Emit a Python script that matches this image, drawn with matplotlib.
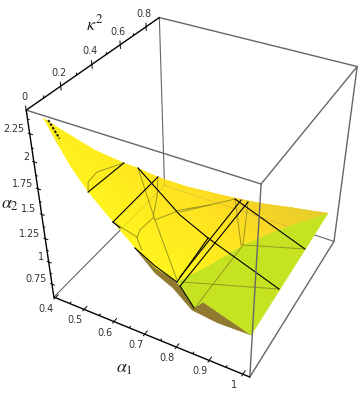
import numpy as np
import matplotlib
matplotlib.use('Agg')
import matplotlib.pyplot as plt
from matplotlib.colors import LinearSegmentedColormap
from matplotlib.patches import Polygon
from matplotlib.tri import Triangulation

# box ranges
a1_lim = [0.395, 1.02]
k_lim = [0, 0.91]
a2_lim = [0.6, 2.45]

a1_ticks = [0.4, 0.5, 0.6, 0.7, 0.8, 0.9, 1]
a1_labels = ['0.4', '0.5', '0.6', '0.7', '0.8', '0.9', '1']
k_ticks = [0, 0.2, 0.4, 0.6, 0.8]
k_labels = ['0', '0.2', '0.4', '0.6', '0.8']
a2_ticks = [0.75, 1, 1.25, 1.5, 1.75, 2, 2.25]
a2_labels = ['0.75', '1', '1.25', '1.5', '1.75', '2', '2.25']

# surface edges, (alpha1, kappa^2, alpha2)
upper_a1 = [0.444, 0.477, 0.51, 0.549, 0.57, 0.589, 0.649, 0.701, 0.766, 0.832, 0.93, 1.022]
upper_k = [0, 0.05, 0.15, 0.25, 0.3, 0.4, 0.47, 0.55, 0.6, 0.65, 0.7, 0.75]
upper_a2 = [2.428, 2.285, 2.042, 1.839, 1.749, 1.554, 1.432, 1.318, 1.257, 1.206, 1.19, 1.168]
upper_shade = [0.15, 0.15, 0.2, 0.25, 0.3, 0.35, 0.45, 0.55, 0.7, 0.8, 0.92, 1]

lower_a1 = [0.472, 0.509, 0.556, 0.624, 0.685, 0.743, 0.806]
lower_k = [0, 0, 0, 0, 0, 0, 0]
lower_a2 = [2.268, 2.077, 1.89, 1.685, 1.506, 1.378, 1.318]
lower_shade = [0.12, 0.05, 0, 0, 0, 0, 0.03]

fold_a1 = [0.837, 0.86, 0.923]
fold_k = [0.2, 0.4, 0.6]
fold_a2 = [1.228, 1.138, 1.103]
fold_shade = [0.15, 0.4, 0.75]

green_a1 = [0.815, 0.855, 0.881, 1.017]
green_k = [0, 0, 0, 0]
green_a2 = [1.289, 1.115, 1.214, 1.063]

under_a1 = [0.685, 0.742, 0.794, 0.849, 0.924, 1.017]
under_k = [0, 0, 0, 0, 0, 0]
under_a2 = [1.506, 1.326, 1.241, 1.085, 1.054, 1.063]

# black mesh lines
black_lines = [
    ([0.556, 0.549], [0, 0.25], [1.89, 1.839]),
    ([0.624, 0.589], [0, 0.4], [1.685, 1.554]),
    ([0.57, 0.678, 0.757, 0.973], [0.3, 0.35, 0.38, 0.42], [1.749, 1.321, 1.12, 0.754]),
    ([0.757, 0.806], [0.38, 0], [1.12, 1.318]),
    ([0.786, 0.803], [0.6, 0.03], [1.256, 1.315]),
    ([0.799, 0.815], [0.63, 0], [1.208, 1.289]),
    ([0.766, 0.985], [0.6, 0.65], [1.246, 0.863]),
    ([0.815, 0.855], [0, 0], [1.289, 1.115]),
    ([0.624, 0.644], [0, 0], [1.685, 1.651]),
    ([0.685, 0.743, 0.806], [0, 0, 0], [1.506, 1.398, 1.318]),
]

# speckle of mesh lines bunched at the tip
tip_a1 = [0.45, 0.475]
tip_k = [0.015, 0.02]
tip_a2 = [2.4, 2.26]

# thin olive curves
thin_lines = [
    ([0.556, 0.532, 0.526, 0.549], [0, 0.05, 0.12, 0.25], [1.89, 1.892, 1.891, 1.839]),
    ([0.589, 0.605, 0.611, 0.611, 0.637, 0.683], [0.4, 0.35, 0.3, 0.2, 0.12, 0.05], [1.554, 1.429, 1.283, 1.301, 1.366, 1.406]),
    ([0.57, 0.639, 0.786], [0.3, 0.25, 0.05], [1.749, 1.365, 1.229]),
    ([0.639, 0.679, 0.719], [0.25, 0.35, 0.5], [1.365, 1.374, 1.265]),
    ([0.624, 0.647], [0, 0.1], [1.685, 1.418]),
    ([0.659, 0.766], [0.4, 0.6], [1.26, 1.246]),
    ([0.813, 0.973], [0.02, 0.42], [1.294, 0.754]),
    ([0.86, 0.985], [0.4, 0.65], [1.138, 0.863]),
    ([0.766, 0.848], [0.6, 0.42], [1.246, 1.093]),
    ([0.799, 0.86], [0.63, 0.4], [1.208, 1.138]),
    ([0.86, 0.855], [0.4, 0], [1.138, 1.104]),
]

# perspective camera fitted to the box
P = np.array([[-0.56386390, -0.32282738, 0.03519631, 0.09162773],
              [-0.14624673, 0.16629413, 0.22587129, -0.68420786],
              [0.00030499, -0.00045383, 0.00017796, -0.00226883]])


def project(a1, k, a2):
    pts = np.array([a1, k, a2, np.ones_like(np.asarray(a1, dtype=float))], dtype=float)
    h = P @ pts
    return h[0] / h[2], h[1] / h[2]


def box_edge(ax, p, q, color='#666666', lw=1.0, z=1, alpha=None):
    u, v = project([p[0], q[0]], [p[1], q[1]], [p[2], q[2]])
    ax.plot(u, v, color=color, lw=lw, zorder=z, alpha=alpha, solid_capstyle='round')


fig = plt.figure(figsize=(3.6, 3.97), dpi=100)
ax = fig.add_axes([0, 0, 1, 1])
ax.set_xlim(0, 360)
ax.set_ylim(397, 0)
ax.axis('off')

a0, a9 = a1_lim
k0, k9 = k_lim
b0, b9 = a2_lim

# edges behind the surface
back_edges = [((a0, k9, b9), (a0, k9, b0)),
              ((a0, k0, b0), (a0, k9, b0)),
              ((a0, k9, b0), (a9, k9, b0))]
for p, q in back_edges:
    box_edge(ax, p, q, lw=0.8, z=1)

# underside
u_x, u_y = project(under_a1 + green_a1[2:0:-1] + [green_a1[0]], under_k + [0, 0, 0], under_a2 + green_a2[2:0:-1] + [green_a2[0]])
ax.add_patch(Polygon(np.column_stack([u_x, u_y]), closed=True, fc='#8f7a30', ec='#8f7a30', lw=0.4, zorder=2))

# green part
g_x, g_y = project(green_a1 + [upper_a1[-1]] + fold_a1[::-1] + [lower_a1[-1]],
                   green_k + [upper_k[-1]] + fold_k[::-1] + [lower_k[-1]],
                   green_a2 + [upper_a2[-1]] + fold_a2[::-1] + [lower_a2[-1]])
ax.add_patch(Polygon(np.column_stack([g_x, g_y]), closed=True, fc='#c6e321', ec='#c6e321', lw=0.4, zorder=3))

# yellow sheet with smooth shading
cmap = LinearSegmentedColormap.from_list('sheet', ['#fff41e', '#ffe61e', '#ffd726', '#e4cb2a'])
all_a1 = np.array(upper_a1 + fold_a1[::-1] + lower_a1[::-1])
all_k = np.array(upper_k + fold_k[::-1] + lower_k[::-1])
all_a2 = np.array(upper_a2 + fold_a2[::-1] + lower_a2[::-1])
all_c = np.array(upper_shade + fold_shade[::-1] + lower_shade[::-1])
s_x, s_y = project(all_a1, all_k, all_a2)
tri = Triangulation(s_x, s_y)
mesh = ax.tripcolor(tri, all_c, shading='gouraud', cmap=cmap, vmin=0, vmax=1, zorder=4)
outline = Polygon(np.column_stack([s_x, s_y]), closed=True, transform=ax.transData, fc='none', ec='none')
ax.add_patch(outline)
mesh.set_clip_path(outline)

# back edges show faintly through the sheet
for p, q in back_edges:
    u, v = project([p[0], q[0]], [p[1], q[1]], [p[2], q[2]])
    line, = ax.plot(u, v, color='#666666', lw=0.8, alpha=0.16, zorder=5)
    line.set_clip_path(outline)

for c1, c2, c3 in thin_lines:
    x_, y_ = project(c1, c2, c3)
    ax.plot(x_, y_, color='#8b8a1c', lw=0.7, alpha=0.85, zorder=6)
for c1, c2, c3 in black_lines:
    x_, y_ = project(c1, c2, c3)
    ax.plot(x_, y_, color='black', lw=0.8, zorder=7)
x_, y_ = project(tip_a1, tip_k, tip_a2)
ax.plot(x_, y_, color='#222200', lw=1.5, ls=(0, (1.2, 0.8)), zorder=7)

# edges in front
front_edges = [((a0, k0, b9), (a9, k0, b9)),
               ((a0, k9, b9), (a9, k9, b9)),
               ((a9, k0, b9), (a9, k9, b9)),
               ((a9, k9, b9), (a9, k9, b0)),
               ((a9, k0, b9), (a9, k0, b0)),
               ((a9, k0, b0), (a9, k9, b0))]
for p, q in front_edges:
    box_edge(ax, p, q, lw=1.0, z=8)

# black axes
box_edge(ax, (a0, k0, b9), (a0, k0, b0), color='black', lw=1.0, z=9)
box_edge(ax, (a0, k0, b0), (a9, k0, b0), color='black', lw=1.0, z=9)
box_edge(ax, (a0, k0, b9), (a0, k9, b9), color='black', lw=1.0, z=9)


def tick_mark(p, q):
    box_edge(ax, p, q, color='black', lw=0.7, z=9)


tick_font = {'fontsize': 6.9, 'color': '#333333', 'family': 'DejaVu Sans'}

for val, lab in zip(a1_ticks, a1_labels):
    tick_mark((val, k0 - 0.01, b0), (val, k0 + 0.02, b0))
    x_, y_ = project([val], [k0], [b0])
    ax.text(x_[0] - 9, y_[0] + 11, lab, ha='center', va='center', **tick_font)
for val in [0.45, 0.55, 0.65, 0.75, 0.85, 0.95]:
    tick_mark((val, k0, b0), (val, k0 + 0.01, b0))

for val, lab in zip(k_ticks, k_labels):
    tick_mark((a0, val, b9 - 0.035), (a0, val, b9 + 0.035))
    x_, y_ = project([a0], [val], [b9])
    ax.text(x_[0] - 2, y_[0] - 13, lab, ha='center', va='center', **tick_font)
for val in [0.1, 0.3, 0.5, 0.7]:
    tick_mark((a0, val, b9), (a0, val, b9 + 0.018))

for val, lab in zip(a2_ticks, a2_labels):
    tick_mark((a0 - 0.005, k0, val), (a0 + 0.009, k0, val))
    x_, y_ = project([a0], [k0], [val])
    ax.text(x_[0] - 5, y_[0] - 5, lab, ha='right', va='center', **tick_font)
for val in [0.875, 1.125, 1.375, 1.625, 1.875, 2.125, 2.375]:
    tick_mark((a0, k0, val), (a0 + 0.005, k0, val))

# axis names
label_font = {'fontsize': 13, 'color': '#222222', 'math_fontfamily': 'stix'}
ax.text(95, 24, r'$\kappa^2$', ha='center', va='center', **label_font)
ax.text(10, 204, r'$\alpha_2$', ha='center', va='center', **label_font)
ax.text(125, 368, r'$\alpha_1$', ha='center', va='center', **label_font)

fig.savefig('out.png', dpi=100)
